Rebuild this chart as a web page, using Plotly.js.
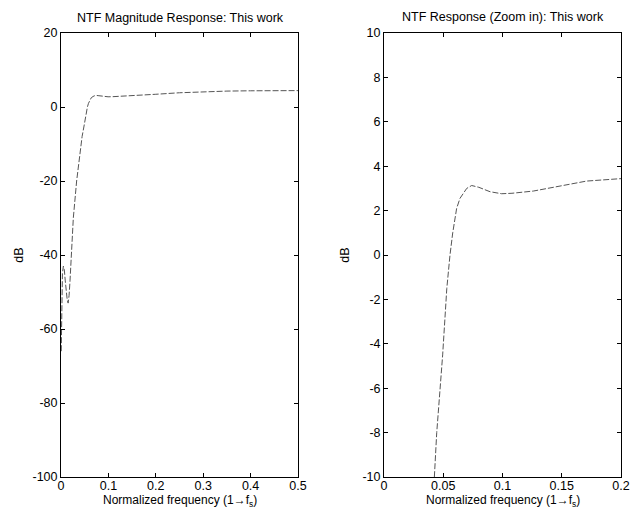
<!DOCTYPE html>
<html>
<head>
<meta charset="utf-8">
<script src="https://cdn.plot.ly/plotly-3.0.1.min.js"></script>
<style>html,body{margin:0;padding:0;background:#fff;}#chart{width:632px;height:511px;}</style>
</head>
<body>
<div id="chart"></div>
<script>
// Normalized frequency and NTF magnitude (dB)
const freq = [0.0005, 0.001, 0.0015, 0.003, 0.005, 0.007, 0.009, 0.011, 0.013, 0.015, 0.017, 0.019, 0.021, 0.023, 0.026, 0.033, 0.038, 0.0425, 0.0445, 0.0495, 0.053, 0.0557, 0.058, 0.0613, 0.0641, 0.0698, 0.074, 0.08, 0.0895, 0.0993, 0.108, 0.126, 0.1485, 0.171, 0.2, 0.25, 0.3, 0.35, 0.4, 0.45, 0.5];
const ntfDb = [-66, -56, -48, -45, -43, -44, -47, -50, -52, -53, -51, -47, -42, -37, -30, -20, -14.5, -10, -8, -4.5, -1.5, 0, 1, 2.1, 2.55, 3.0, 3.13, 3.05, 2.85, 2.76, 2.78, 2.88, 3.1, 3.33, 3.44, 3.85, 4.15, 4.3, 4.38, 4.42, 4.43];

const leftTicksX = [0, 0.1, 0.2, 0.3, 0.4, 0.5];
const leftTicksY = [-100, -80, -60, -40, -20, 0, 20];
const rightTicksX = [0, 0.05, 0.1, 0.15, 0.2];
const rightTicksY = [-10, -8, -6, -4, -2, 0, 2, 4, 6, 8, 10];

const titles = ["NTF Magnitude Response: This work", "NTF Response (Zoom in): This work"];
const xTitle = "Normalized frequency (1\u2192f<sub>s</sub>)";
const yTitle = "dB";

const lineStyle = {color: '#555', width: 1, dash: '6px,2px'};
const traces = [
  {x: freq, y: ntfDb, type: 'scatter', mode: 'lines', line: lineStyle, xaxis: 'x', yaxis: 'y', hoverinfo: 'skip'},
  {x: freq, y: ntfDb, type: 'scatter', mode: 'lines', line: lineStyle, xaxis: 'x2', yaxis: 'y2', hoverinfo: 'skip'}
];

const fam = 'Liberation Sans, Arial, sans-serif';
const font = {family: fam, size: 12.5, color: '#000'};
function ax(extra) {
  return Object.assign({
    showgrid: false, zeroline: false, showline: true, mirror: 'ticks',
    linecolor: '#000', linewidth: 1, ticks: 'inside', ticklen: 4, tickcolor: '#000',
    tickfont: {family: fam, size: 12.5, color: '#000'}, tickmode: 'array', fixedrange: true
  }, extra);
}

const yDom = [1 - 477/511, 1 - 33/511];
const layout = {
  width: 632, height: 511,
  margin: {l: 0, r: 0, t: 0, b: 0},
  paper_bgcolor: '#fff', plot_bgcolor: '#fff',
  showlegend: false, font: font,
  xaxis: ax({domain: [61/632, 298/632], range: [0, 0.5], tickvals: leftTicksX, ticktext: ['0','0.1','0.2','0.3','0.4','0.5'], anchor: 'y', ticklabelstandoff: -3}),
  yaxis: ax({domain: yDom, range: [-100, 20], tickvals: leftTicksY, ticktext: leftTicksY.map(String), anchor: 'x',
    title: {text: yTitle, font: {family: fam, size: 12.5}, standoff: 6}}),
  xaxis2: ax({domain: [384/632, 621/632], range: [0, 0.2], tickvals: rightTicksX, ticktext: ['0','0.05','0.1','0.15','0.2'], anchor: 'y2', ticklabelstandoff: -3}),
  yaxis2: ax({domain: yDom, range: [-10, 10], tickvals: rightTicksY, ticktext: rightTicksY.map(String), anchor: 'x2',
    title: {text: yTitle, font: {family: fam, size: 12.5}, standoff: 10}}),
  annotations: [
    {text: titles[0], xref: 'paper', yref: 'paper', x: 180/632, y: 1 - 18/511, showarrow: false, xanchor: 'center', yanchor: 'middle', font: {family: fam, size: 12.5, color: '#000'}},
    {text: titles[1], xref: 'paper', yref: 'paper', x: 503/632, y: 1 - 17/511, showarrow: false, xanchor: 'center', yanchor: 'middle', font: {family: fam, size: 12.5, color: '#000'}},
    {text: xTitle, xref: 'paper', yref: 'paper', x: 180/632, y: 0, showarrow: false, xanchor: 'center', yanchor: 'bottom', font: {family: fam, size: 12, color: '#000'}},
    {text: xTitle, xref: 'paper', yref: 'paper', x: 503/632, y: 0, showarrow: false, xanchor: 'center', yanchor: 'bottom', font: {family: fam, size: 12, color: '#000'}}
  ]
};

Plotly.newPlot('chart', traces, layout, {staticPlot: true, displayModeBar: false});
</script>
</body>
</html>
